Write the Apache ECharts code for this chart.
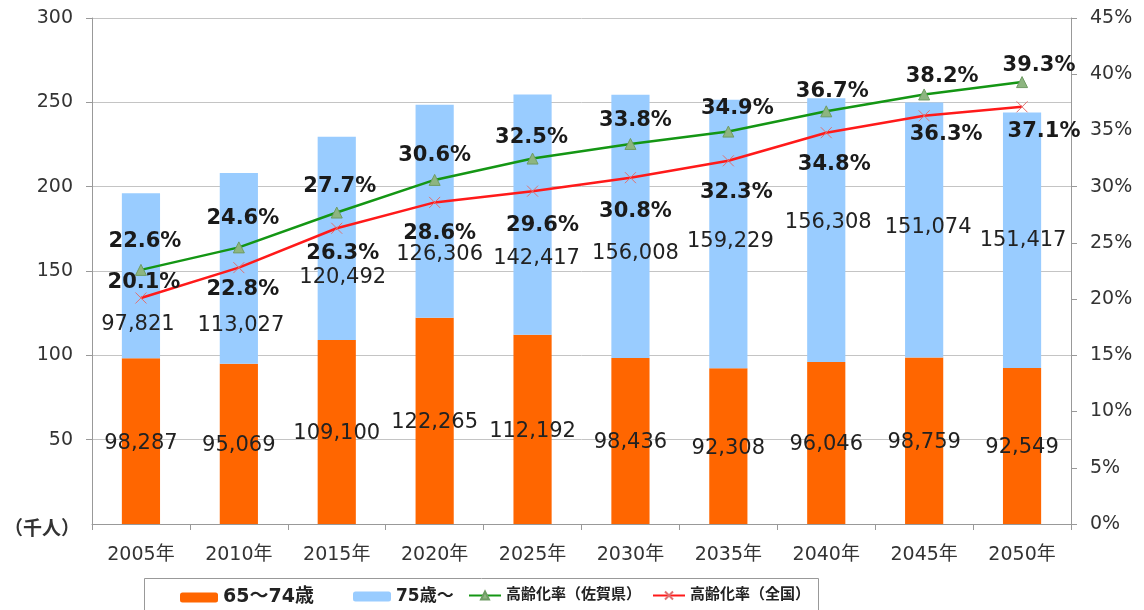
<!DOCTYPE html>
<html>
<head>
<meta charset="utf-8">
<script src="https://cdn.jsdelivr.net/npm/echarts@6/dist/echarts.min.js"></script>
<style>
    html, body { margin: 0; padding: 0; background: #fff; }
    #chart { width: 1144px; height: 610px; }
</style>
</head>
<body>
<div id="chart"></div>
<script>
    // data
    var years = ['2005年', '2010年', '2015年', '2020年', '2025年', '2030年', '2035年', '2040年', '2045年', '2050年'];
    var age65to74 = [98287, 95069, 109100, 122265, 112192, 98436, 92308, 96046, 98759, 92549];
    var age75over = [97821, 113027, 120492, 126306, 142417, 156008, 159229, 156308, 151074, 151417];
    var rateSaga = [22.6, 24.6, 27.7, 30.6, 32.5, 33.8, 34.9, 36.7, 38.2, 39.3];
    var rateJapan = [20.1, 22.8, 26.3, 28.6, 29.6, 30.8, 32.3, 34.8, 36.3, 37.1];

    // label nudges (px) so labels sit where the original put them
    var blueLabelOffset = [[-3, 49], [2, 57], [6, 39], [5, 43], [4, 44], [5, 27], [2, 8], [2, -8], [4, -2], [1, 0]];
    var sagaLabelOffset = [[4, -28], [4, -29], [3, -26], [0, -24], [-1, -21], [5, -23], [9, -23], [6, -20], [18, -18], [17, -17]];
    var japanLabelOffset = [[3, -15], [4, 22], [6, 25], [5, 31], [10, 34], [5, 34], [8, 32], [8, 32], [22, 19], [22, 25]];

    var font = "'DejaVu Sans', 'Noto Sans CJK JP', sans-serif";

    function withOffsets(values, offsets) {
        return values.map(function (v, i) {
            return { value: v, label: { offset: offsets[i] } };
        });
    }
    function comma(p) {
        return Number(p.value).toLocaleString('en-US');
    }
    function pct(p) {
        return Number(p.value).toFixed(1) + '%';
    }
    // one legend per item so each can sit where it sits in the original
    function legendItem(name, left, width, size) {
        return {
            data: [name],
            left: left,
            top: 588,
            padding: 0,
            itemWidth: width,
            itemHeight: 10,
            textStyle: { fontSize: size, fontWeight: 'bold', color: '#222', fontFamily: font }
        };
    }

    var chart = echarts.init(document.getElementById('chart'));
    var option = {
        animation: false,
        backgroundColor: '#fff',
        textStyle: { fontFamily: font },
        grid: { left: 92, right: 73, top: 18, bottom: 86 },
        graphic: [
            {
                type: 'text',
                left: 4,
                top: 521,
                style: { text: '（千人）', font: 'bold 19px ' + font, fill: '#333' }
            },
            {
                type: 'rect',
                shape: { x: 144.5, y: 578.5, width: 674, height: 40 },
                style: { fill: 'none', stroke: '#999', lineWidth: 1 }
            }
        ],
        legend: [
            legendItem('65～74歳', 180, 38, 19),
            legendItem('75歳～', 353, 38, 17),
            legendItem('高齢化率（佐賀県）', 468, 32, 15),
            legendItem('高齢化率（全国）', 652, 32, 15)
        ],
        xAxis: {
            type: 'category',
            data: years,
            axisLine: { lineStyle: { color: '#999' } },
            axisTick: { show: true, length: 6, lineStyle: { color: '#999' } },
            axisLabel: { fontSize: 19, color: '#333', margin: 22 }
        },
        yAxis: [
            {
                type: 'value',
                min: 0,
                max: 300000,
                interval: 50000,
                axisLine: { show: true, lineStyle: { color: '#999' } },
                axisTick: { show: true, length: 6, lineStyle: { color: '#999' } },
                axisLabel: {
                    fontSize: 19, color: '#333', margin: 19, showMinLabel: false,
                    formatter: function (v) { return v / 1000; }
                },
                splitLine: { lineStyle: { color: '#c4c4c4' } }
            },
            {
                type: 'value',
                min: 0,
                max: 45,
                interval: 5,
                position: 'right',
                axisLine: { show: true, lineStyle: { color: '#999' } },
                axisTick: { show: true, length: 6, lineStyle: { color: '#999' } },
                axisLabel: { fontSize: 19, color: '#333', margin: 19, formatter: '{value}%' },
                splitLine: { show: false }
            }
        ],
        series: [
            {
                name: '65～74歳',
                type: 'bar',
                stack: 'pop',
                barWidth: '39%',
                itemStyle: { color: '#FF6600' },
                label: {
                    show: true, position: 'inside', offset: [0, 2],
                    fontSize: 21, color: '#222', formatter: comma
                },
                data: age65to74
            },
            {
                name: '75歳～',
                type: 'bar',
                stack: 'pop',
                barWidth: '39%',
                itemStyle: { color: '#99CCFF' },
                label: {
                    show: true, position: 'inside',
                    fontSize: 21, color: '#222', formatter: comma
                },
                data: withOffsets(age75over, blueLabelOffset)
            },
            {
                name: '高齢化率（佐賀県）',
                type: 'line',
                yAxisIndex: 1,
                z: 5,
                symbol: 'triangle',
                symbolSize: 11,
                lineStyle: { color: '#149614', width: 2.5 },
                itemStyle: { color: '#8DB580', borderColor: '#6f9c64', borderWidth: 1 },
                label: {
                    show: true, position: 'inside',
                    fontSize: 21, fontWeight: 'bold', color: '#1a1a1a', formatter: pct
                },
                data: withOffsets(rateSaga, sagaLabelOffset)
            },
            {
                name: '高齢化率（全国）',
                type: 'line',
                yAxisIndex: 1,
                z: 5,
                symbol: 'path://M0,0L10,10M10,0L0,10',
                symbolSize: 11,
                lineStyle: { color: '#FF1A1A', width: 2.5 },
                itemStyle: { color: '#E07070', borderColor: '#E07070', borderWidth: 1 },
                label: {
                    show: true, position: 'inside',
                    fontSize: 21, fontWeight: 'bold', color: '#1a1a1a', formatter: pct
                },
                data: withOffsets(rateJapan, japanLabelOffset)
            }
        ]
    };
    chart.setOption(option);
</script>
</body>
</html>
